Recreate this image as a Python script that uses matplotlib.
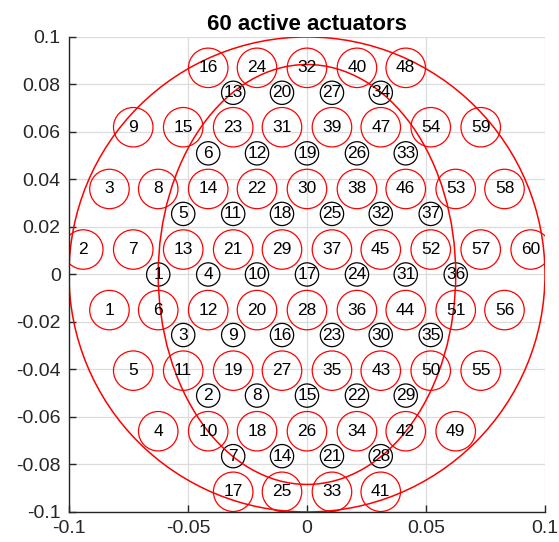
import numpy as np
import matplotlib
matplotlib.use('Agg')
import matplotlib.pyplot as plt
from matplotlib.patches import Circle, Ellipse

plt.rcParams['font.family'] = ['Liberation Sans', 'DejaVu Sans']

# active actuators (red), numbered 1..60 in this order
red_x = [-0.083, -0.094, -0.083, -0.0625, -0.073, -0.0625, -0.073, -0.0625, -0.073,
         -0.0415, -0.052, -0.0415, -0.052, -0.0415, -0.052, -0.0415,
         -0.031, -0.021, -0.031, -0.021, -0.031, -0.021, -0.031, -0.021,
         -0.0105, 0.0, -0.0105, 0.0, -0.0105, 0.0, -0.0105, 0.0,
         0.0105, 0.021, 0.0105, 0.021, 0.0105, 0.021, 0.0105, 0.021,
         0.031, 0.0415, 0.031, 0.0415, 0.031, 0.0415, 0.031, 0.0415,
         0.0625, 0.052, 0.0625, 0.052, 0.0625, 0.052,
         0.073, 0.083, 0.073, 0.083, 0.073, 0.094]
red_y = [-0.015, 0.0105, 0.036, -0.066, -0.0405, -0.015, 0.0105, 0.036, 0.062,
         -0.066, -0.0405, -0.015, 0.0105, 0.036, 0.062, 0.087,
         -0.0915, -0.066, -0.0405, -0.015, 0.0105, 0.036, 0.062, 0.087,
         -0.0915, -0.066, -0.0405, -0.015, 0.0105, 0.036, 0.062, 0.087,
         -0.0915, -0.066, -0.0405, -0.015, 0.0105, 0.036, 0.062, 0.087,
         -0.0915, -0.066, -0.0405, -0.015, 0.0105, 0.036, 0.062, 0.087,
         -0.066, -0.0405, -0.015, 0.0105, 0.036, 0.062,
         -0.0405, -0.015, 0.0105, 0.036, 0.062, 0.0105]

# second set (black), numbered 1..37
black_x = [-0.0625, -0.0415, -0.052, -0.0415, -0.052, -0.0415,
           -0.031, -0.021, -0.031, -0.021, -0.031, -0.021, -0.031,
           -0.0105, 0.0, -0.0105, 0.0, -0.0105, 0.0, -0.0105,
           0.0105, 0.021, 0.0105, 0.021, 0.0105, 0.021, 0.0105,
           0.031, 0.0415, 0.031, 0.0415, 0.031, 0.0415, 0.031,
           0.052, 0.0625, 0.052]
black_y = [0.0, -0.051, -0.0255, 0.0, 0.0255, 0.051,
           -0.0765, -0.051, -0.0255, 0.0, 0.0255, 0.051, 0.0765,
           -0.0765, -0.051, -0.0255, 0.0, 0.0255, 0.051, 0.0765,
           -0.0765, -0.051, -0.0255, 0.0, 0.0255, 0.051, 0.0765,
           -0.0765, -0.051, -0.0255, 0.0, 0.0255, 0.051, 0.0765,
           -0.0255, 0.0, 0.0255]

r_red = 0.0083
r_black = 0.0049
pupil_r = 0.1
inner_a, inner_b = 0.0625, 0.0884

fig = plt.figure(figsize=(5.59, 5.42), dpi=100)
ax = fig.add_axes([0.1234, 0.0554, 0.8515, 0.8764])

for i, (x, y) in enumerate(zip(red_x, red_y)):
    ax.add_patch(Circle((x, y), r_red, fill=False, ec='red', lw=0.9))
    ax.text(x, y, str(i + 1), ha='center', va='center', fontsize=12.5, color='black')

for i, (x, y) in enumerate(zip(black_x, black_y)):
    ax.add_patch(Circle((x, y), r_black, fill=False, ec='black', lw=0.9))
    ax.text(x, y, str(i + 1), ha='center', va='center', fontsize=12.5, color='black')

ax.add_patch(Circle((0, 0), pupil_r, fill=False, ec='red', lw=1.1))
ax.add_patch(Ellipse((0, 0), 2 * inner_a, 2 * inner_b, fill=False, ec='red', lw=1.1))

ax.set_xlim(-0.1, 0.1)
ax.set_ylim(-0.1, 0.1)
ax.set_xticks([-0.1, -0.05, 0, 0.05, 0.1])
ax.set_xticklabels(['-0.1', '-0.05', '0', '0.05', '0.1'])
ax.set_yticks(np.arange(-0.1, 0.1001, 0.02))
ax.set_yticklabels(['-0.1', '-0.08', '-0.06', '-0.04', '-0.02', '0',
                    '0.02', '0.04', '0.06', '0.08', '0.1'])
ax.grid(True, color='#dcdcdc', lw=0.9)
ax.set_axisbelow(True)
for s in ['top', 'right']:
    ax.spines[s].set_visible(False)
for s in ['left', 'bottom']:
    ax.spines[s].set_color('#262626')
    ax.spines[s].set_linewidth(1.0)
ax.tick_params(direction='in', length=5, width=1, colors='#262626', labelsize=14, pad=6)
ax.set_title('60 active actuators', fontsize=16, fontweight='bold', pad=5)

fig.savefig('out.png', dpi=100)
